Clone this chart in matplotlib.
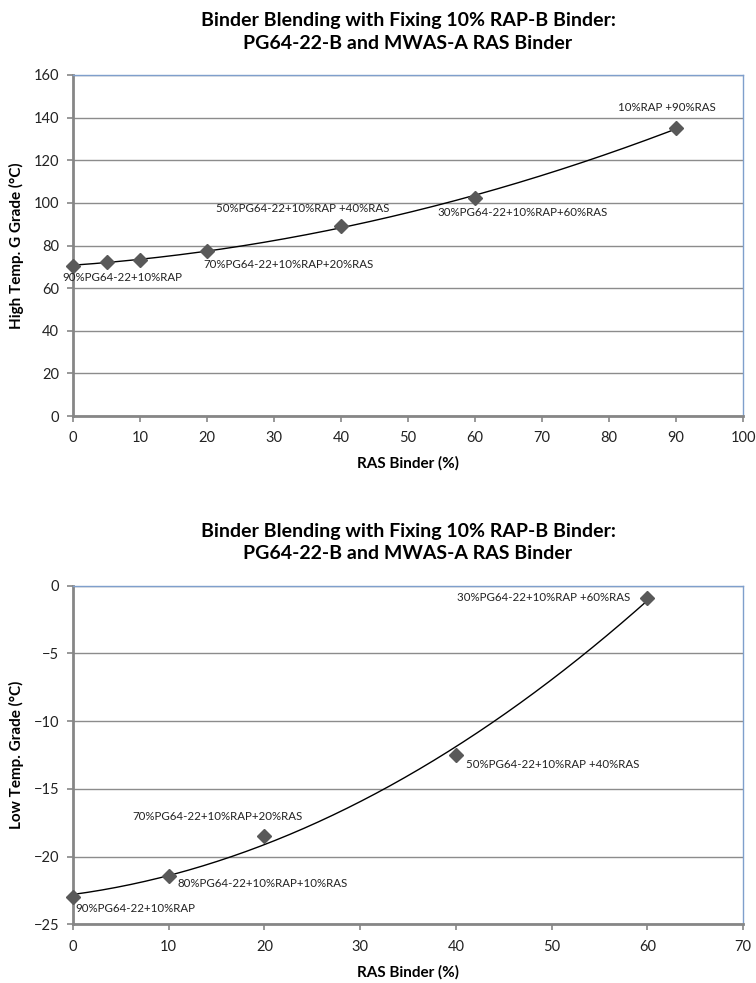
import numpy as np
import matplotlib
matplotlib.use("Agg")
import matplotlib.pyplot as plt

plt.rcParams['font.family'] = ['Lato', 'DejaVu Sans']

title_text = "Binder Blending with Fixing 10% RAP-B Binder:\nPG64-22-B and MWAS-A RAS Binder"
x_label = "RAS Binder (%)"

# High temperature chart
high_x = [0, 5, 10, 20, 40, 60, 90]
high_y = [70.5, 72.3, 73.2, 77.5, 89.3, 102.5, 135.0]
high_labels = ["90%PG64-22+10%RAP", None, None, "70%PG64-22+10%RAP+20%RAS",
               "50%PG64-22+10%RAP +40%RAS", "30%PG64-22+10%RAP+60%RAS", "10%RAP +90%RAS"]
high_yticks = [0, 20, 40, 60, 80, 100, 120, 140, 160]
high_xticks = [0, 10, 20, 30, 40, 50, 60, 70, 80, 90, 100]

# Low temperature chart
low_x = [0, 10, 20, 40, 60]
low_y = [-23.0, -21.4, -18.5, -12.5, -0.9]
low_labels = ["90%PG64-22+10%RAP", "80%PG64-22+10%RAP+10%RAS", "70%PG64-22+10%RAP+20%RAS",
              "50%PG64-22+10%RAP +40%RAS", "30%PG64-22+10%RAP +60%RAS"]
low_yticks = [-25, -20, -15, -10, -5, 0]
low_xticks = [0, 10, 20, 30, 40, 50, 60, 70]

# label offsets in pixels (dx, dy, ha)
PX = 0.72
high_offsets = [(-11, -12, 'left'), None, None, (-4, -14, 'left'),
                (-38, 17, 'center'), (48, -14.5, 'center'), (-9, 21, 'center')]
low_offsets = [(2, -11, 'left'), (9, -7.5, 'left'), (-47, 20, 'center'),
               (10, -10, 'left'), (-17, 0, 'right')]

fig = plt.figure(figsize=(7.56, 9.83), dpi=100)
ax1 = fig.add_axes([73/756, 1-416/983, 670/756, 341/983])
ax2 = fig.add_axes([73/756, 1-924.3/983, 670/756, 338.6/983])

gray = '#868686'
blue = '#7f9fcc'

def style(ax, xticks, yticks, ylabel):
    ax.set_xticks(xticks)
    ax.set_yticks(yticks)
    ax.set_xlim(xticks[0], xticks[-1])
    ax.set_ylim(yticks[0], yticks[-1])
    ax.grid(axis='y', color='#8c8c8c', linewidth=1.0)
    ax.set_axisbelow(True)
    for s in ['left', 'bottom']:
        ax.spines[s].set_color(gray)
        ax.spines[s].set_linewidth(2.0)
    for s in ['top', 'right']:
        ax.spines[s].set_color(blue)
        ax.spines[s].set_linewidth(1.0)
    ax.tick_params(axis='both', direction='out', color=gray, width=1.2, length=4,
                   labelsize=10.5, labelcolor='#222222')
    ax.tick_params(axis='x', pad=7)
    ax.tick_params(axis='y', pad=6)
    ax.set_xlabel(x_label, fontsize=11, fontweight='bold', labelpad=8)
    ax.set_ylabel(ylabel, fontsize=11, fontweight='bold', labelpad=7)
    ax.set_title(title_text, fontsize=14, fontweight='bold', pad=19, linespacing=1.4)

def draw(ax, xs, ys, labels, offsets):
    xs = np.array(xs, dtype=float)
    ys = np.array(ys, dtype=float)
    coef = np.polyfit(xs, ys, 2)
    xf = np.linspace(xs.min(), xs.max(), 200)
    ax.plot(xf, np.polyval(coef, xf), color='black', linewidth=1.0, zorder=3)
    ax.plot(xs, ys, linestyle='none', marker='D', markersize=7, color='#595959',
            markeredgecolor='#595959', zorder=4, clip_on=False)
    for x, y, lab, off in zip(xs, ys, labels, offsets):
        if lab is None:
            continue
        dx, dy, ha = off
        ax.annotate(lab, (x, y), xytext=(dx*PX, dy*PX), textcoords='offset points',
                    ha=ha, va='center', fontsize=8.3, color='#222222', zorder=5)

style(ax1, high_xticks, high_yticks, "High Temp. G Grade (°C)")
draw(ax1, high_x, high_y, high_labels, high_offsets)
style(ax2, low_xticks, low_yticks, "Low Temp. Grade (°C)")
draw(ax2, low_x, low_y, low_labels, low_offsets)

fig.savefig("out.png", dpi=100)
